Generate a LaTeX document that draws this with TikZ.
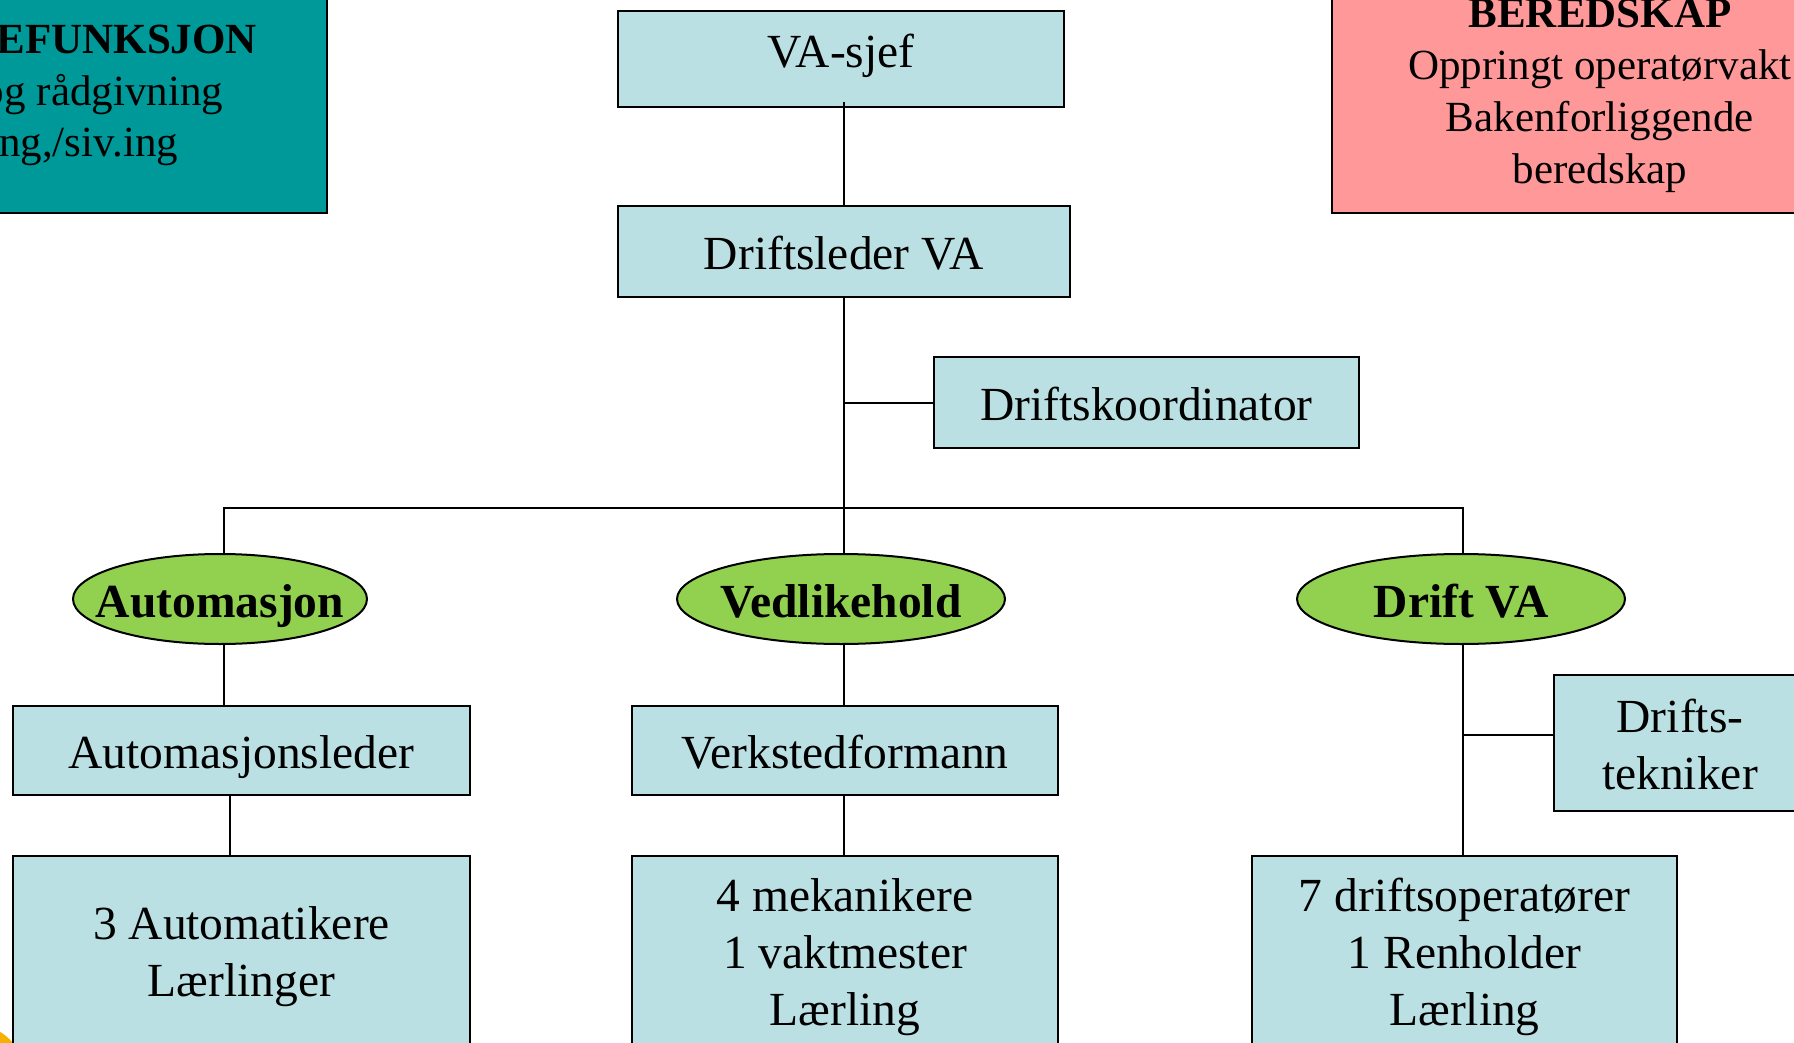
\documentclass[tikz,border=0pt]{standalone}
\usepackage{fontspec}
\setmainfont{Liberation Serif}
\usetikzlibrary{shapes.geometric}
\definecolor{boxblue}{RGB}{187,224,227}
\definecolor{tealbox}{RGB}{0,153,153}
\definecolor{pinkbox}{RGB}{255,153,153}
\definecolor{greenell}{RGB}{146,208,80}
\definecolor{goldfrag}{RGB}{245,176,0}
\newcommand{\mlines}[2]{\raisebox{#1}[\height][\depth]{\begin{tabular}{@{}c@{}}#2\end{tabular}}}
\begin{document}
\begin{tikzpicture}[x=1pt,y=-1pt,line width=2pt,
  lbox/.style={draw=black,fill=boxblue,rectangle,inner sep=0pt,
    font=\fontsize{47.5}{57}\selectfont},
  onel/.style={text height=42.75pt,text depth=6.65pt},
  oval/.style={draw=black,fill=greenell,ellipse,inner sep=0pt,
    text height=42.75pt,text depth=6.65pt,
    font=\fontsize{47.5}{57}\selectfont\bfseries},
  topbox/.style={draw=black,rectangle,inner sep=0pt,align=center,
    font=\fontsize{43}{52}\selectfont},
  conn/.style={draw=black,line width=2pt}]
\useasboundingbox (0,0) rectangle (1794,1043);
\clip (0,0) rectangle (1794,1043);

% corner fragment
\fill[goldfrag] (-25,1074) circle[radius=49];

% top side boxes
\node[topbox,fill=tealbox,minimum width=527,minimum height=242] (stab) at (63.5,92) {};
\node[anchor=base east,inner sep=0pt,font=\fontsize{43}{52}\selectfont\bfseries] (stab1) at (258,54) {EFUNKSJON};
\node[anchor=base east,inner sep=0pt,font=\fontsize{43}{52}\selectfont] (stab2) at (224,106) {og rådgivning};
\node[anchor=base east,inner sep=0pt,font=\fontsize{43}{52}\selectfont] (stab3) at (179,157) {ng,/siv.ing};

\node[topbox,fill=pinkbox,minimum width=536,minimum height=234] (bered) at (1600,96)
  {\textbf{BEREDSKAP}\\Oppringt operatørvakt\\Bakenforliggende\\beredskap};

% main chain
\node[lbox,onel,text depth=26.6pt,minimum width=446,minimum height=96] (vasjef) at (841,59) {VA-sjef};
\node[lbox,onel,minimum width=452,minimum height=91] (dleder) at (844,251.5) {Driftsleder VA};
\node[lbox,onel,minimum width=425,minimum height=91] (koord) at (1146.5,402.5) {Driftskoordinator};

\node[oval,minimum width=294,minimum height=90] (auto) at (220,599) {\makebox[0pt]{Automasjon}};
\node[oval,minimum width=328,minimum height=90] (ved) at (841,599) {\makebox[0pt]{Vedlikehold}};
\node[oval,minimum width=328,minimum height=90] (dva) at (1461,599) {\makebox[0pt]{Drift VA}};

\node[lbox,onel,minimum width=457,minimum height=89] (aleder) at (241.5,750.5) {Automasjonsleder};
\node[lbox,onel,minimum width=426,minimum height=89] (verk) at (845,750.5) {Verkstedformann};
\node[lbox,minimum width=252,minimum height=136] (dtek) at (1680,743) {\mlines{-7pt}{Drifts-\\tekniker}};

\node[lbox,minimum width=457,minimum height=194] (amatik) at (241.5,953) {\mlines{-4pt}{3 Automatikere\\Lærlinger}};
\node[lbox,minimum width=426,minimum height=194] (mek) at (845,953) {\mlines{-4.5pt}{4 mekanikere\\1 vaktmester\\Lærling}};
\node[lbox,minimum width=425,minimum height=194] (dop) at (1464.5,953) {\mlines{-4.5pt}{7 driftsoperatører\\1 Renholder\\Lærling}};

% connector coordinates
\coordinate (busL) at (224,508);
\coordinate (busM) at (844,508);
\coordinate (busR) at (1463,508);
\coordinate (axL) at (230,0);

% connectors
\draw[conn] ([yshift=6pt]busM |- vasjef.south) -- (busM |- dleder.north);
\draw[conn] (busM |- dleder.south) -- (busM |- ved.north);
\draw[conn] (koord.west) -- (koord.west -| busM);
\draw[conn] (busL |- auto.north) -- (busL) -- (busR) -- (busR |- dva.north);
\draw[conn] (busL |- auto.south) -- (busL |- aleder.north);
\draw[conn] (axL |- aleder.south) -- (axL |- amatik.north);
\draw[conn] (busM |- ved.south) -- (busM |- verk.north);
\draw[conn] (busM |- verk.south) -- (busM |- mek.north);
\draw[conn] (busR |- dva.south) -- (busR |- dop.north);
\draw[conn] ([yshift=8pt]dtek.west) -- ([yshift=8pt]dtek.west -| busR);
\end{tikzpicture}
\end{document}
